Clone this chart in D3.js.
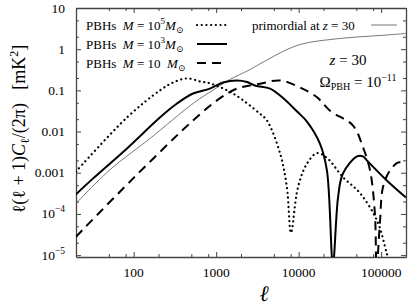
<!DOCTYPE html>
<html>
  <head>
    <meta charset="utf-8">
    <title></title>
    <style>
      body { margin: 0; background: #fff; }
      svg { display: block; }
      text { font-family: "Liberation Serif", "DejaVu Serif", serif; fill: #000; }
      .axis path, .axis line { stroke: #444; }
    </style>
    <script src="https://cdnjs.cloudflare.com/ajax/libs/d3/7.8.5/d3.min.js"></script>
  </head>
  <body>
    <div id="chart"></div>
    <script>
// primordial signal at z = 30
var ellPrim = [20, 52, 158, 524, 1023, 1470, 2570, 5160, 10400, 31700, 96800, 200000];
var cPrim   = [1.8e-4, 1.2e-3, 6.8e-3, 0.048, 0.117, 0.184, 0.32, 0.70, 1.30, 1.82, 2.15, 2.4];

// PBHs M = 1e5 Msun (dotted)
var ellM5 = [20, 83, 208, 300, 443, 637, 841, 1600, 3400, 4130, 5940, 7200, 8070, 9800, 12600, 16700, 22000, 34400, 55400, 89000, 117000, 130000];
var cM5   = [1.07e-3, 0.022, 0.1, 0.155, 0.195, 0.165, 0.148, 0.084, 0.027, 0.0186, 3e-3, 4.4e-4, 3.5e-5, 4.4e-4, 1.66e-3, 3e-3, 2.3e-3, 7.8e-4, 3.2e-4, 6.9e-5, 1.1e-5, 5e-6];

// PBHs M = 1e3 Msun (solid)
var ellM3 = [20, 32, 83, 208, 335, 524, 841, 1210, 1780, 2370, 3000, 4500, 6460, 9500, 12600, 18100, 22000, 26000, 30000, 34400, 51000, 60000, 67000, 117000, 200000];
var cM3   = [3e-4, 7.2e-4, 3.9e-3, 0.022, 0.048, 0.084, 0.11, 0.155, 0.174, 0.16, 0.13, 0.11, 0.065, 0.031, 0.0175, 5.1e-3, 1.14e-3, 6e-6, 2.5e-4, 9.6e-4, 2.5e-3, 2.5e-3, 2e-3, 6.5e-4, 2.5e-4];

// PBHs M = 10 Msun (dashed)
var ellM10 = [20, 98, 524, 1023, 1780, 3400, 5940, 10400, 16700, 24000, 45600, 60300, 73300, 84000, 88000, 97000, 105000, 128000, 165000, 200000];
var cM10   = [2.8e-5, 7.2e-4, 0.0186, 0.057, 0.11, 0.145, 0.174, 0.117, 0.068, 0.032, 0.014, 4.1e-3, 1.14e-3, 1e-4, 5e-6, 7e-5, 4.4e-4, 1.14e-3, 1.8e-3, 1.5e-3];

var xMajor = [100, 1000, 10000, 100000];
var xMajorLabels = ["100", "1000", "10000", "100000"];
var yMajor = [10, 1, 0.1, 0.01, 0.001, 1e-4, 1e-5];
var yMajorLabels = [["10"], ["1"], ["0.1"], ["0.01"], ["0.001"], ["10", "−4"], ["10", "−5"]];

var W = 408, H = 308;
var L = 76, R = 406, T = 8, B = 257;

var x = d3.scaleLog().domain([20, 2e5]).range([L, R]);
var y = d3.scaleLog().domain([9e-6, 10]).range([B, T]);

var svg = d3.select("#chart").append("svg").attr("width", W).attr("height", H);

svg.append("defs").append("clipPath").attr("id", "clip")
  .append("rect").attr("x", L).attr("y", T).attr("width", R - L).attr("height", B - T);

// minor ticks
var xMinor = [], yMinor = [];
[10, 100, 1000, 10000, 100000].forEach(function(d){
  [2, 5, 8].forEach(function(m){ if (d * m > 20 && d * m <= 2e5) xMinor.push(d * m); });
});
[1e-5, 1e-4, 1e-3, 1e-2, 0.1, 1].forEach(function(d){
  [2, 5].forEach(function(m){ yMinor.push(d * m); });
});

function ax(gen, tr, vals, size){
  return svg.append("g").attr("class", "axis").attr("transform", tr)
    .call(gen.tickValues(vals).tickSize(size).tickSizeOuter(0).tickFormat(""));
}
ax(d3.axisBottom(x), "translate(0," + B + ")", xMajor, -5);
ax(d3.axisBottom(x), "translate(0," + B + ")", xMinor, -3).select(".domain").remove();
ax(d3.axisTop(x), "translate(0," + T + ")", xMajor, -5);
ax(d3.axisTop(x), "translate(0," + T + ")", xMinor, -3).select(".domain").remove();
ax(d3.axisLeft(y), "translate(" + L + ",0)", yMajor, -5);
ax(d3.axisLeft(y), "translate(" + L + ",0)", yMinor, -3).select(".domain").remove();
ax(d3.axisRight(y), "translate(" + R + ",0)", yMajor, -5);
ax(d3.axisRight(y), "translate(" + R + ",0)", yMinor, -3).select(".domain").remove();
svg.selectAll(".axis path").attr("stroke-width", 1.3);

// tick labels
svg.selectAll(".xlab").data(xMajor).enter().append("text")
  .attr("x", function(d){ return x(d); }).attr("y", B + 20)
  .attr("text-anchor", "middle").style("font-size", "13.5px")
  .text(function(d, i){ return xMajorLabels[i]; });

var yl = svg.selectAll(".ylab").data(yMajor).enter().append("text")
  .attr("x", L - 11).attr("y", function(d){ return y(d) + 4.5; })
  .attr("text-anchor", "end").style("font-size", "13.5px");
yl.each(function(d, i){
  var t = d3.select(this), parts = yMajorLabels[i];
  t.append("tspan").text(parts[0]);
  if (parts.length > 1) t.append("tspan").attr("dy", -6).style("font-size", "9.5px").text(parts[1]);
});

// axis titles
svg.append("text").attr("x", 264).attr("y", 301).attr("text-anchor", "middle")
  .style("font-size", "22px").style("font-style", "italic").text("ℓ");

var yt = svg.append("text").attr("transform", "translate(25,129) rotate(-90)")
  .attr("text-anchor", "middle").style("font-size", "18px").attr("xml:space", "preserve");
yt.append("tspan").text("ℓ(ℓ + 1)");
yt.append("tspan").style("font-style", "italic").text("C");
yt.append("tspan").attr("dy", 4).style("font-size", "12px").text("ℓ");
yt.append("tspan").attr("dy", -4).text("/(2π)   [mK");
yt.append("tspan").attr("dy", -7).style("font-size", "12px").text("2");
yt.append("tspan").attr("dy", 7).text("]");

// curves
var line = d3.line()
  .x(function(d){ return x(d[0]); })
  .y(function(d){ return y(d[1]); })
  .curve(d3.curveCatmullRom.alpha(0.5));
var plot = svg.append("g").attr("clip-path", "url(#clip)");

function pairs(a, b){ return a.map(function(v, i){ return [v, b[i]]; }); }

plot.append("path").datum(pairs(ellPrim, cPrim)).attr("d", line)
  .attr("fill", "none").attr("stroke", "#555").attr("stroke-width", 0.8);
plot.append("path").datum(pairs(ellM5, cM5)).attr("d", line)
  .attr("fill", "none").attr("stroke", "#000").attr("stroke-width", 2.2)
  .attr("stroke-linecap", "round").attr("stroke-dasharray", "0.1,4.6");
plot.append("path").datum(pairs(ellM3, cM3)).attr("d", line)
  .attr("fill", "none").attr("stroke", "#000").attr("stroke-width", 2);
plot.append("path").datum(pairs(ellM10, cM10)).attr("d", line)
  .attr("fill", "none").attr("stroke", "#000").attr("stroke-width", 2)
  .attr("stroke-dasharray", "9,6");

// legend
var leg = [
  { sup: "5", dash: "0.1,4.6", cap: "round", w: 2.2 },
  { sup: "3", dash: null, cap: "butt", w: 2 },
  { sup: null, dash: "9,6", cap: "butt", w: 2 }
];
leg.forEach(function(d, i){
  var yy = 25 + i * 19;
  var t = svg.append("text").attr("x", 86).attr("y", yy + 4.5).style("font-size", "13px")
    .attr("xml:space", "preserve");
  t.append("tspan").text("PBHs  ");
  t.append("tspan").style("font-style", "italic").text("M");
  t.append("tspan").text(" = 10");
  if (d.sup) {
    t.append("tspan").attr("dy", -6).style("font-size", "9px").text(d.sup);
    t.append("tspan").attr("dy", 6).style("font-style", "italic").text("M");
  } else {
    t.append("tspan").style("font-style", "italic").text("  M");
  }
  t.append("tspan").attr("dy", 3).style("font-size", "9px").text("⊙");
  svg.append("line").attr("x1", 197).attr("x2", 227).attr("y1", yy).attr("y2", yy)
    .attr("stroke", "#000").attr("stroke-width", d.w).attr("stroke-linecap", d.cap)
    .attr("stroke-dasharray", d.dash);
});

var pt = svg.append("text").attr("x", 252).attr("y", 29.5).style("font-size", "13px");
pt.append("tspan").text("primordial at ");
pt.append("tspan").style("font-style", "italic").text("z");
pt.append("tspan").text(" = 30");
svg.append("line").attr("x1", 371).attr("x2", 397).attr("y1", 25).attr("y2", 25)
  .attr("stroke", "#555").attr("stroke-width", 0.8);

var zt = svg.append("text").attr("x", 348).attr("y", 65).attr("text-anchor", "middle").style("font-size", "15px");
zt.append("tspan").style("font-style", "italic").text("z");
zt.append("tspan").text(" = 30");

var ot = svg.append("text").attr("x", 358).attr("y", 87).attr("text-anchor", "middle").style("font-size", "15px");
ot.append("tspan").text("Ω");
ot.append("tspan").attr("dy", 3).style("font-size", "10px").text("PBH");
ot.append("tspan").attr("dy", -3).text(" = 10");
ot.append("tspan").attr("dy", -6).style("font-size", "10px").text("−11");
    </script>
  </body>
</html>
